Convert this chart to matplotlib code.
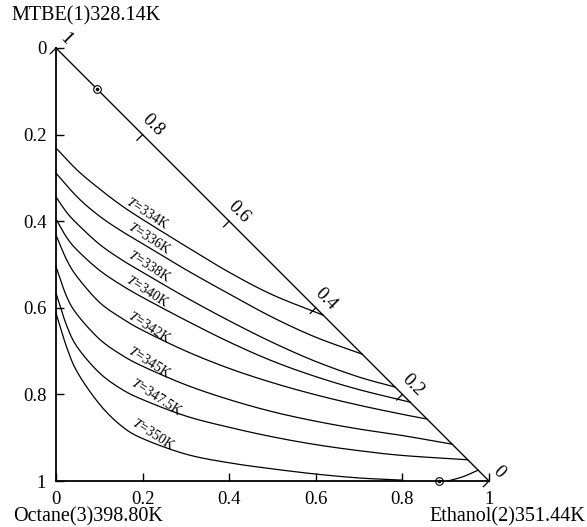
import numpy as np
import matplotlib.pyplot as plt

plt.rcParams['font.family'] = ['Liberation Serif', 'DejaVu Serif']
plt.rcParams['mathtext.fontset'] = 'stix'

# isotherms: x = ethanol axis, y = octane axis (0 at top)
temps = ['334', '336', '338', '340', '342', '345', '347.5', '350']

x334 = [0.0, 0.05, 0.10, 0.15, 0.20, 0.30, 0.40, 0.50, 0.617]
y334 = [0.231, 0.283, 0.325, 0.363, 0.396, 0.458, 0.518, 0.570, 0.617]
x336 = [0.0, 0.05, 0.10, 0.15, 0.20, 0.30, 0.40, 0.50, 0.60, 0.707]
y336 = [0.289, 0.345, 0.388, 0.422, 0.452, 0.512, 0.568, 0.622, 0.668, 0.707]
x338 = [0.0, 0.025, 0.05, 0.10, 0.15, 0.20, 0.30, 0.40, 0.50, 0.60, 0.70, 0.783]
y338 = [0.344, 0.380, 0.407, 0.453, 0.488, 0.518, 0.576, 0.630, 0.680, 0.724, 0.760, 0.783]
x340 = [0.0, 0.025, 0.05, 0.10, 0.15, 0.20, 0.30, 0.40, 0.50, 0.60, 0.70, 0.818]
y340 = [0.395, 0.438, 0.468, 0.513, 0.547, 0.576, 0.629, 0.679, 0.723, 0.759, 0.789, 0.818]
x342 = [0.0, 0.025, 0.05, 0.10, 0.15, 0.20, 0.30, 0.40, 0.50, 0.60, 0.70, 0.80, 0.857]
y342 = [0.432, 0.490, 0.530, 0.587, 0.623, 0.652, 0.700, 0.740, 0.773, 0.801, 0.825, 0.846, 0.857]
x345 = [0.0, 0.025, 0.05, 0.10, 0.15, 0.20, 0.30, 0.40, 0.50, 0.60, 0.70, 0.80, 0.915]
y345 = [0.505, 0.575, 0.617, 0.672, 0.708, 0.735, 0.778, 0.812, 0.840, 0.862, 0.880, 0.895, 0.915]
x347 = [0.0, 0.025, 0.05, 0.10, 0.15, 0.20, 0.30, 0.40, 0.50, 0.60, 0.70, 0.80, 0.951]
y347 = [0.566, 0.642, 0.692, 0.750, 0.787, 0.812, 0.850, 0.876, 0.898, 0.916, 0.930, 0.941, 0.951]
x350 = [0.0, 0.025, 0.05, 0.10, 0.15, 0.20, 0.30, 0.40, 0.50, 0.60, 0.70, 0.80]
y350 = [0.612, 0.692, 0.750, 0.822, 0.872, 0.902, 0.938, 0.958, 0.972, 0.984, 0.993, 0.998]
# 350 K branch on the ethanol side of the azeotrope
x350b = [0.905, 0.94, 0.975]
y350b = [1.0, 0.99, 0.975]

xs = [x334, x336, x338, x340, x342, x345, x347, x350]
ys = [y334, y336, y338, y340, y342, y345, y347, y350]

# azeotropes (MTBE-ethanol and ethanol-octane)
azeo_x = [0.095, 0.885]
azeo_y = [0.095, 1.0]

edge_ticks = [1, 0.8, 0.6, 0.4, 0.2, 0]
axis_ticks = [0, 0.2, 0.4, 0.6, 0.8, 1]
axis_labels = ['0', '0.2', '0.4', '0.6', '0.8', '1']

label_xy = [(0.212, 0.381), (0.217, 0.439), (0.215, 0.503), (0.212, 0.561),
            (0.217, 0.644), (0.217, 0.725), (0.233, 0.805), (0.226, 0.891)]


def smooth(x, y, n=30):
    # Catmull-Rom through the traced points
    p = np.column_stack([x, y])
    p = np.vstack([2 * p[0] - p[1], p, 2 * p[-1] - p[-2]])
    out = []
    t = np.linspace(0, 1, n, endpoint=False)[:, None]
    for i in range(1, len(p) - 2):
        p0, p1, p2, p3 = p[i - 1], p[i], p[i + 1], p[i + 2]
        seg = 0.5 * ((2 * p1) + (-p0 + p2) * t + (2 * p0 - 5 * p1 + 4 * p2 - p3) * t ** 2
                     + (-p0 + 3 * p1 - 3 * p2 + p3) * t ** 3)
        out.append(seg)
    out.append(p[-2][None, :])
    out = np.vstack(out)
    return out[:, 0], out[:, 1]


fig = plt.figure(figsize=(5.87, 5.27), dpi=100)
ax = fig.add_axes([56 / 587, 46 / 527, 433 / 587, 433 / 527])
ax.set_xlim(0, 1)
ax.set_ylim(1, 0)

for s in ['top', 'right']:
    ax.spines[s].set_visible(False)
for s in ['left', 'bottom']:
    ax.spines[s].set_linewidth(1.3)

ax.set_xticks(axis_ticks)
ax.set_xticklabels(axis_labels)
ax.set_yticks(axis_ticks)
ax.set_yticklabels(axis_labels)
ax.tick_params(direction='in', length=6, width=1.0, labelsize=13.5, pad=7)

# hypotenuse with MTBE scale
ax.plot([0, 1], [0, 1], color='black', lw=1.0, clip_on=False)
for v in edge_ticks:
    p = 1 - v
    d = 0.013
    ax.plot([p, p - d], [p, p + d], color='black', lw=0.9, clip_on=False)
    ax.text(p + 0.023, p - 0.021, f'{v:g}', rotation=-45, ha='center', va='center',
            fontsize=13.5)

for x, y, t, (lx, ly) in zip(xs, ys, temps, label_xy):
    sx, sy = smooth(x, y)
    ax.plot(sx, sy, color='black', lw=0.9, clip_on=False)
    ax.text(lx, ly, f'$T$={t}K', rotation=-33, ha='center', va='center', fontsize=10)

sx, sy = smooth(x350b, y350b)
ax.plot(sx, sy, color='black', lw=0.9, clip_on=False)

ax.plot(azeo_x, azeo_y, 'o', ms=5.5, mfc='white', mec='black', mew=0.8, clip_on=False)
ax.plot(azeo_x, azeo_y, 'o', ms=1.6, color='black', clip_on=False)

fig.text(11 / 587, 1 - 16 / 527, 'MTBE(1)328.14K', fontsize=14.5, va='center', ha='left')
fig.text(13 / 587, 1 - 517 / 527, 'Octane(3)398.80K', fontsize=14.5, va='center', ha='left')
fig.text(585 / 587, 1 - 517 / 527, 'Ethanol(2)351.44K', fontsize=14.5, va='center', ha='right')

fig.savefig('out.png', dpi=100)
